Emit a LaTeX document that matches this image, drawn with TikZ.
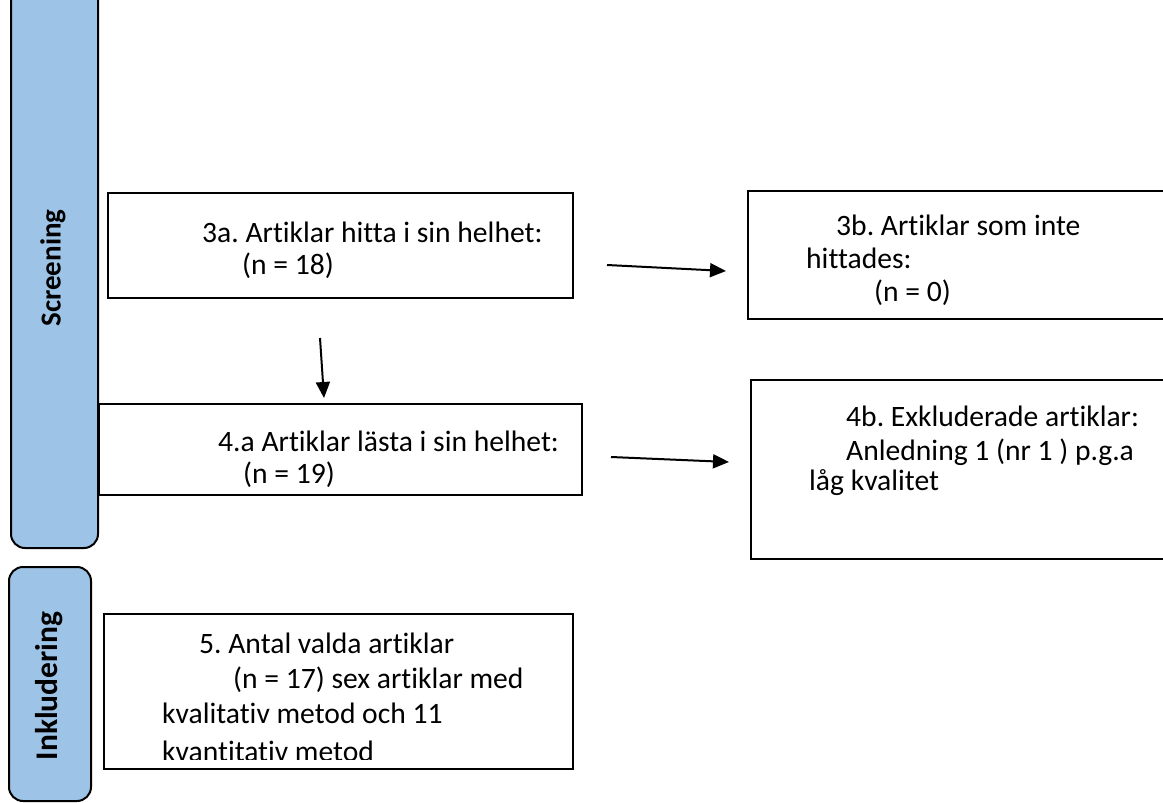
\documentclass[tikz,border=0pt]{standalone}
\usepackage{fontspec}
\setmainfont{Carlito}[Ligatures=NoCommon]
\usetikzlibrary{arrows.meta}
\definecolor{barblue}{HTML}{9DC3E6}
\begin{document}
\frenchspacing
\begin{tikzpicture}[x=1pt,y=-1pt,
  box/.style={draw=black,line width=2pt,inner sep=0pt,anchor=north west},
  bar/.style={draw=black,line width=2pt,fill=barblue,rounded corners=14pt,inner sep=0pt,anchor=north west},
  txt/.style={anchor=base west,inner sep=0pt,font=\fontsize{29.6}{36}\selectfont},
  bartxt/.style={rotate=90,inner sep=0pt,font=\bfseries\fontsize{29}{34}\selectfont},
  arr/.style={line width=2pt,-{Triangle[length=16pt,width=14pt]}}]
\useasboundingbox (0,0) rectangle (1163,803);
% side bars
\node[bar,minimum width=87pt,minimum height=600pt] (scrbar) at (10,-53) {};
\node[bartxt] (scrlabel) at (53,268) {Screening};
\node[bar,minimum width=82pt,minimum height=234pt] (inkbar) at (8,566) {};
\node[bartxt,font=\bfseries\fontsize{31.5}{36}\selectfont] (inklabel) at (49,686) {Inkludering};
% boxes
\node[box,minimum width=465pt,minimum height=105pt] (b3a) at (107,192) {};
\node[box,minimum width=440pt,minimum height=128pt] (b3b) at (747,190) {};
\node[box,minimum width=483pt,minimum height=91pt] (b4a) at (98,403) {};
\node[box,minimum width=440pt,minimum height=179pt] (b4b) at (750,379) {};
% texts
\node[txt] (t3a1) at (202,242) {3a. Artiklar hitta i sin helhet:};
\node[txt] (t3a2) at (242,274) {(n = 18)};
\node[txt] (t3b1) at (836,235) {3b. Artiklar som inte};
\node[txt] (t3b2) at (806,268) {hittades:};
\node[txt] (t3b3) at (874,301) {(n = 0)};
\node[txt] (t4a1) at (218,451) {4.a Artiklar lästa i sin helhet:};
\node[txt] (t4a2) at (243,483) {(n = 19)};
\node[txt] (t4b1) at (846,426) {4b. Exkluderade artiklar:};
\node[txt] (t4b2) at (846,460) {Anledning 1 (nr 1 ) p.g.a};
\node[txt] (t4b3) at (809,490) {låg kvalitet};
\node[txt] (t51) at (199,653) {5. Antal valda artiklar};
\node[txt] (t52) at (233,688) {(n = 17) sex artiklar med};
\node[txt] (t53) at (162,723) {kvalitativ metod och 11};
\begin{scope}
  \clip (100,700) rectangle (580,759);
  \node[txt] (t54) at (162,761) {kvantitativ metod};
\end{scope}
\node[box,minimum width=469pt,minimum height=155pt] (b5) at (103,613) {};
% arrows
\coordinate (a1s) at (607,265);
\coordinate (a1e) at (726,271);
\coordinate (a2s) at (320,338);
\coordinate (a2e) at (324,398);
\coordinate (a3s) at (611,457);
\coordinate (a3e) at (729,462);
\draw[arr] (a1s) -- (a1e);
\draw[arr] (a2s) -- (a2e);
\draw[arr] (a3s) -- (a3e);
\end{tikzpicture}
\end{document}
